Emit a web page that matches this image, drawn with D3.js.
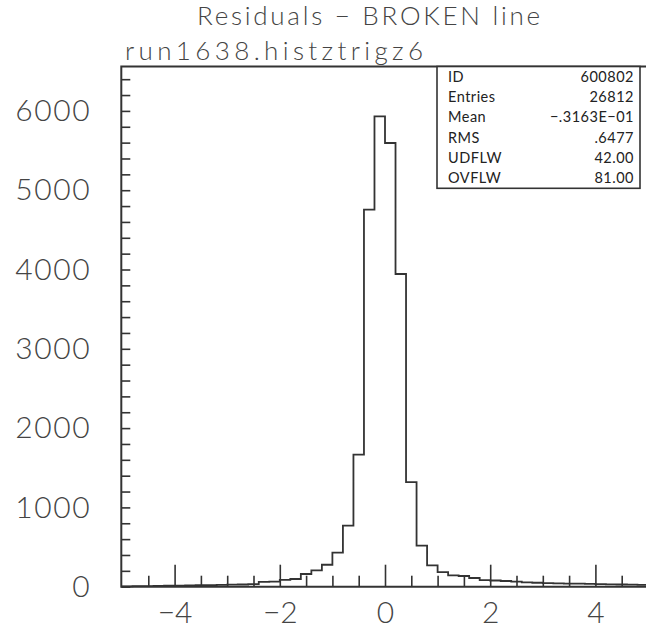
<!DOCTYPE html>
<html>
<head>
<meta charset="utf-8">
<script src="https://cdn.jsdelivr.net/npm/d3@7"></script>
<style>
  html, body { margin: 0; padding: 0; background: #fff; }
  svg { display: block; }
  text { font-family: Lato, "DejaVu Sans", sans-serif; }
</style>
</head>
<body>
<svg id="chart" width="646" height="631"></svg>
<script>
// ---- data ----
const titleLines = ["Residuals \u2212 BROKEN line", "run1638.histztrigz6"];
const binLow = -5, binHigh = 5, binWidth = 0.2;
const counts = [
  5, 8, 8, 10, 12, 14, 15, 18, 20, 22,
  25, 28, 32, 60, 65, 85, 97, 160, 205, 277,
  430, 769, 1665, 4754, 5930, 5595, 3943, 1320, 517, 269,
  183, 143, 135, 110, 82, 78, 72, 65, 55, 50,
  45, 42, 40, 38, 35, 32, 30, 28, 25, 22
];
const yTickValues = [0, 1000, 2000, 3000, 4000, 5000, 6000];
const yTickLabels = ["0", "1000", "2000", "3000", "4000", "5000", "6000"];
const xTickValues = [-4, -2, 0, 2, 4];
const xTickLabels = ["\u22124", "\u22122", "0", "2", "4"];
const statNames = ["ID", "Entries", "Mean", "RMS", "UDFLW", "OVFLW"];
const statValues = ["600802", "26812", "\u2212.3163E\u221201", ".6477", "42.00", "81.00"];

// ---- layout ----
const svg = d3.select("#chart");
const x = d3.scaleLinear().domain([binLow, binHigh]).range([122, 648]);
const y = d3.scaleLinear().domain([0, 6560]).range([586.7, 66.5]);
const lineColor = "#333";
const labelStyle = sel => sel.style("font-family", "Lato, 'DejaVu Sans', sans-serif")
  .style("font-weight", 300).style("fill", "#444");

// title
svg.append("text").attr("x", 197).attr("y", 25).attr("font-size", 26)
  .attr("textLength", 343).call(labelStyle).text(titleLines[0]);
svg.append("text").attr("x", 125).attr("y", 60).attr("font-size", 26)
  .attr("textLength", 298).call(labelStyle).text(titleLines[1]);

// histogram outline
const edges = d3.range(counts.length + 1).map(i => binLow + i * binWidth);
let p = d3.path();
p.moveTo(x(edges[0]), y(0));
counts.forEach((c, i) => {
  p.lineTo(x(edges[i]), y(c));
  p.lineTo(x(edges[i + 1]), y(c));
});
p.lineTo(x(edges[counts.length]), y(0));
svg.append("path").attr("d", p.toString()).attr("fill", "none")
  .attr("stroke", lineColor).attr("stroke-width", 1.8).attr("stroke-linejoin", "miter");

// frame (left, top, bottom)
const frame = svg.append("g").attr("stroke", lineColor).attr("stroke-width", 2).attr("fill", "none");
frame.append("path").attr("d", `M${x(binHigh)},${y.range()[1]}H${x(binLow) - 0.7}V${y(0)}H${x(binHigh)}`);

// y axis ticks
const yMinor = d3.range(0, 6401, 200);
const yAx = svg.append("g").attr("transform", `translate(${x(binLow) - 0.7},0)`)
  .call(d3.axisRight(y).tickValues(yMinor).tickSize(9).tickFormat(""));
yAx.select(".domain").remove();
yAx.selectAll("line").attr("stroke", lineColor).attr("stroke-width", 1.6);

// y labels
const yLab = svg.append("g").attr("transform", `translate(${x(binLow) - 0.7},0)`)
  .call(d3.axisLeft(y).tickValues(yTickValues).tickSize(0).tickPadding(30)
    .tickFormat((d, i) => yTickLabels[i]));
yLab.select(".domain").remove();
yLab.selectAll("text").attr("font-size", 30).call(labelStyle).attr("letter-spacing", 1.6);

// x axis ticks
const xMinor = d3.range(-5, 5.01, 0.5).filter(v => !xTickValues.includes(v) && v > -5);
const xAxMinor = svg.append("g").attr("transform", `translate(0,${y(0)})`)
  .call(d3.axisTop(x).tickValues(xMinor).tickSize(11).tickFormat(""));
xAxMinor.select(".domain").remove();
xAxMinor.selectAll("line").attr("stroke", lineColor).attr("stroke-width", 1.6);
const xAxMajor = svg.append("g").attr("transform", `translate(0,${y(0)})`)
  .call(d3.axisTop(x).tickValues(xTickValues).tickSize(22).tickFormat(""));
xAxMajor.select(".domain").remove();
xAxMajor.selectAll("line").attr("stroke", lineColor).attr("stroke-width", 1.6);

// x labels
const xLab = svg.append("g").attr("transform", `translate(0,${y(0)})`)
  .call(d3.axisBottom(x).tickValues(xTickValues).tickSize(0).tickPadding(15)
    .tickFormat((d, i) => xTickLabels[i]));
xLab.select(".domain").remove();
xLab.selectAll("text").attr("font-size", 30).call(labelStyle);

// stats box
const boxX0 = 437, boxX1 = 640, boxY0 = y.range()[1], boxY1 = 188.3;
svg.append("rect").attr("x", boxX0).attr("y", boxY0).attr("width", boxX1 - boxX0)
  .attr("height", boxY1 - boxY0).attr("fill", "#fff").attr("stroke", lineColor).attr("stroke-width", 1.6);
const rowH = (boxY1 - boxY0) / statNames.length;
const statStyle = sel => sel.style("font-family", "Lato, 'DejaVu Sans', sans-serif")
  .style("font-weight", 400).style("fill", "#222").attr("font-size", 14.5).attr("letter-spacing", 0.5);
statNames.forEach((n, i) => {
  const by = boxY0 + rowH * (i + 0.5) + 5;
  svg.append("text").attr("x", boxX0 + 11).attr("y", by).call(statStyle).text(n);
  svg.append("text").attr("x", boxX1 - 6).attr("y", by).attr("text-anchor", "end")
    .call(statStyle).text(statValues[i]);
});
</script>
</body>
</html>
